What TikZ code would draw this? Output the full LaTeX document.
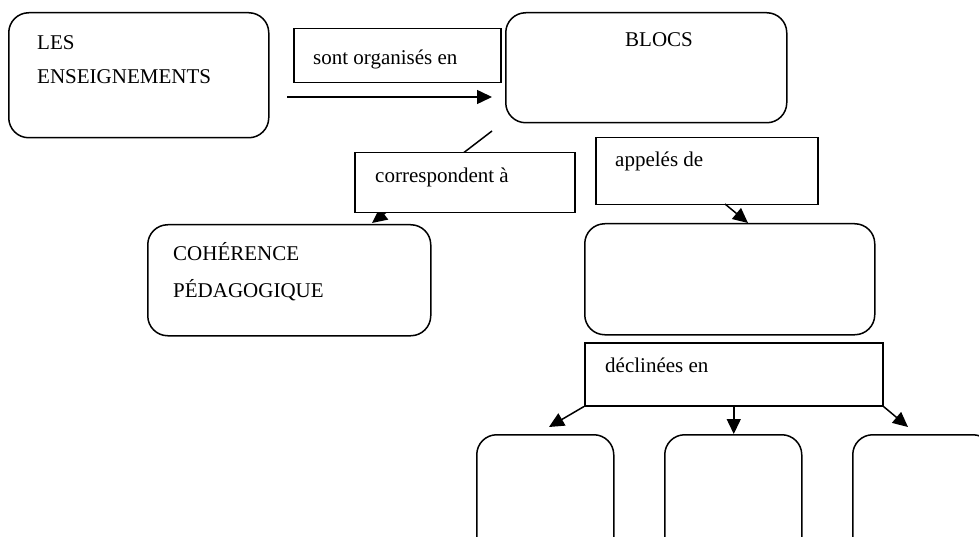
\documentclass[tikz,border=0pt]{standalone}
\usepackage{fontspec}
\setmainfont{Liberation Serif}
\usetikzlibrary{arrows.meta}

\tikzset{
  rbox/.style={draw, line width=1.5pt, rounded corners=20pt, inner sep=0pt, anchor=north west},
  lbox/.style={draw, line width=1.5pt, fill=white, inner sep=0pt, anchor=north west},
  txt/.style={anchor=base west, inner sep=0pt, font=\fontsize{21}{25}\selectfont},
  conn/.style={line width=1.5pt, -{Triangle[length=15pt,width=14pt]}}
}

\begin{document}
\begin{tikzpicture}[x=1pt,y=-1pt]
\useasboundingbox (0,0) rectangle (979,537);
\clip (0,0) rectangle (979,537);

% main boxes
\node[rbox, minimum width=260pt, minimum height=125pt] (ens) at (8,12) {};
\node[rbox, minimum width=281pt, minimum height=110pt] (blocs) at (505,12) {};
\node[rbox, minimum width=283pt, minimum height=111pt] (coh) at (147,224) {};
\node[rbox, minimum width=290pt, minimum height=111pt] (mid) at (584,223) {};
\node[rbox, minimum width=137pt, minimum height=140pt] (b1) at (476,434) {};
\node[rbox, minimum width=137pt, minimum height=140pt] (b2) at (664,434) {};
\node[rbox, minimum width=140pt, minimum height=140pt] (b3) at (852,434) {};

% connector end points
\coordinate (ensOut) at (287,97);
\coordinate (blocsIn) at (492,97);
\coordinate (corStart) at (492,131);
\coordinate (cohIn) at (372,223);
\coordinate (appOut) at (725,204);
\coordinate (midIn) at (748,223);
\coordinate (b1In) at (549,427);
\coordinate (b3In) at (908,427);

% the BLOCS - COHÉRENCE link runs under its label box
\draw[conn] (corStart) -- (cohIn);

% link label boxes
\node[lbox, minimum width=207pt, minimum height=54pt] (org) at (293,28) {};
\node[lbox, minimum width=220pt, minimum height=60pt] (cor) at (354,152) {};
\node[lbox, minimum width=222pt, minimum height=67pt] (app) at (595,137) {};
\node[lbox, minimum width=298pt, minimum height=63pt] (dec) at (584,342) {};

% connectors
\draw[conn] (ensOut) -- (blocsIn);
\draw[conn] (appOut) -- (midIn);
\draw[conn] (dec.south west) -- (b1In);
\draw[conn] (dec.south) -- (dec.south |- b2.north);
\draw[conn] (dec.south east) -- (b3In);

% texts
\node[txt] (tLes) at (37,50) {LES};
\node[txt] (tEns) at (37,84) {ENSEIGNEMENTS};
\node[txt] (tOrg) at (313,65) {sont organisés en};
\node[txt] (tBlocs) at (625,47) {BLOCS};
\node[txt] (tCor) at (375,183) {correspondent à};
\node[txt] (tApp) at (615,167) {appelés de};
\node[txt] (tCoh) at (173,260) {COHÉRENCE};
\node[txt] (tPed) at (173,297) {PÉDAGOGIQUE};
\node[txt] (tDec) at (605,372) {déclinées en};
\end{tikzpicture}
\end{document}
